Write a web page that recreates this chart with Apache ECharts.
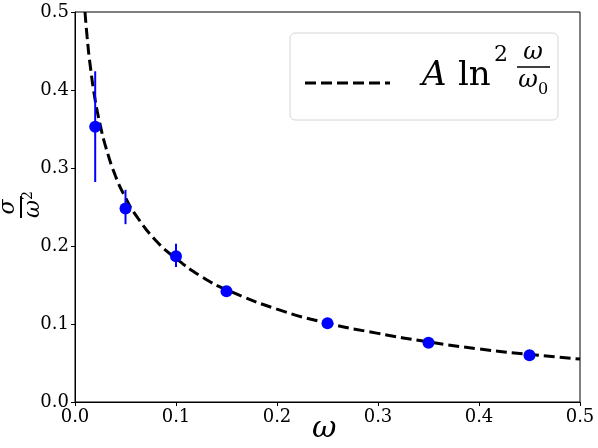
<!DOCTYPE html>
<html>
<head>
<meta charset="utf-8">
<script src="https://cdn.jsdelivr.net/npm/echarts@6/dist/echarts.min.js"></script>
<style>
  html, body { margin: 0; padding: 0; background: #fff; }
  #chart { width: 598px; height: 448px; }
</style>
</head>
<body>
<div id="chart"></div>
<script>
// measured points
const omega = [0.02, 0.05, 0.1, 0.15, 0.25, 0.35, 0.45]
const sigma = [0.353, 0.248, 0.187, 0.142, 0.101, 0.076, 0.060]
const errLow = [0.282, 0.228, 0.173, 0.138, 0.098, 0.074, 0.058]
const errHigh = [0.424, 0.272, 0.203, 0.146, 0.104, 0.078, 0.062]
// dashed fit curve
const fitX = [0.0099, 0.012, 0.015, 0.02, 0.025, 0.03, 0.04, 0.05, 0.06, 0.08, 0.1, 0.125, 0.15, 0.2, 0.25, 0.3, 0.35, 0.4, 0.45, 0.5]
const fitY = [0.500, 0.468, 0.432, 0.387, 0.355, 0.329, 0.290, 0.262, 0.240, 0.207, 0.184, 0.161, 0.144, 0.119, 0.101, 0.088, 0.077, 0.068, 0.061, 0.055]
const ticks = ['0.0', '0.1', '0.2', '0.3', '0.4', '0.5']

const serif = 'DejaVu Serif'
const chart = echarts.init(document.getElementById('chart'))

const axisCommon = {
  type: 'value',
  min: 0,
  max: 0.5,
  interval: 0.1,
  axisLine: { show: true, onZero: false, lineStyle: { color: '#000', width: 1 } },
  axisTick: { show: true, inside: false, length: 4, lineStyle: { color: '#000' } },
  splitLine: { show: false },
  axisLabel: {
    color: '#000',
    fontFamily: serif,
    fontSize: 18,
    margin: 6,
    formatter: (v) => ticks[Math.round(v * 10)]
  }
}

chart.setOption({
  animation: false,
  grid: {
    left: 75, right: 18, top: 12, bottom: 46,
    show: true, borderColor: '#000', borderWidth: 1
  },
  xAxis: axisCommon,
  yAxis: axisCommon,
  series: [
    {
      type: 'line',
      data: fitX.map((x, i) => [x, fitY[i]]),
      smooth: true,
      showSymbol: false,
      lineStyle: { color: '#000', width: 3, type: [11, 5] },
      z: 2
    },
    {
      type: 'custom',
      data: omega.map((x, i) => [x, errLow[i], errHigh[i]]),
      renderItem: (params, api) => {
        const x = api.value(0)
        const lo = api.coord([x, api.value(1)])
        const hi = api.coord([x, api.value(2)])
        return {
          type: 'line',
          shape: { x1: lo[0], y1: lo[1], x2: hi[0], y2: hi[1] },
          style: { stroke: '#0000ff', lineWidth: 2 }
        }
      },
      z: 3
    },
    {
      type: 'scatter',
      data: omega.map((x, i) => [x, sigma[i]]),
      symbolSize: 12,
      itemStyle: { color: '#0000ff', opacity: 1 },
      z: 4
    }
  ],
  graphic: [
    // x axis name
    { type: 'text', left: 312, top: 414, style: { text: 'ω', fontStyle: 'italic', fontSize: 30, fontFamily: serif, fill: '#000' } },
    // y axis name: sigma over omega^2, rotated
    {
      type: 'group', x: 21, y: 207, rotation: Math.PI / 2,
      children: [
        { type: 'text', x: 0, y: -2, style: { text: 'σ', fontStyle: 'italic', fontSize: 22, fontFamily: serif, fill: '#000', align: 'center', verticalAlign: 'bottom' } },
        { type: 'line', shape: { x1: -11, y1: 0, x2: 11, y2: 0 }, style: { stroke: '#000', lineWidth: 2 } },
        { type: 'text', x: -2, y: 1, style: { text: 'ω', fontStyle: 'italic', fontSize: 22, fontFamily: serif, fill: '#000', align: 'center', verticalAlign: 'top' } },
        { type: 'text', x: 7, y: 0, style: { text: '2', fontSize: 14, fontFamily: serif, fill: '#000', align: 'left', verticalAlign: 'top' } }
      ]
    },
    // legend
    {
      type: 'rect', shape: { x: 290, y: 33, width: 268, height: 87, r: 5 },
      style: { fill: 'rgba(255,255,255,0.8)', stroke: '#d6d6d6', lineWidth: 1 }, z: 10
    },
    {
      type: 'line', shape: { x1: 305, y1: 83, x2: 390, y2: 83 },
      style: { stroke: '#000', lineWidth: 3, lineDash: [11, 5] }, z: 11
    },
    { type: 'text', x: 422, y: 93, style: { text: 'A', fontStyle: 'italic', fontSize: 34, fontFamily: serif, fill: '#000', verticalAlign: 'bottom' }, z: 11 },
    { type: 'text', x: 458, y: 93, style: { text: 'ln', fontSize: 34, fontFamily: serif, fill: '#000', verticalAlign: 'bottom' }, z: 11 },
    { type: 'text', x: 494, y: 66, style: { text: '2', fontSize: 22, fontFamily: serif, fill: '#000', verticalAlign: 'bottom' }, z: 11 },
    { type: 'text', x: 533, y: 65, style: { text: 'ω', fontStyle: 'italic', fontSize: 24, fontFamily: serif, fill: '#000', align: 'center', verticalAlign: 'bottom' }, z: 11 },
    { type: 'line', shape: { x1: 517, y1: 67, x2: 550, y2: 67 }, style: { stroke: '#000', lineWidth: 1.5 }, z: 11 },
    { type: 'text', x: 528, y: 69, style: { text: 'ω', fontStyle: 'italic', fontSize: 24, fontFamily: serif, fill: '#000', align: 'center', verticalAlign: 'top' }, z: 11 },
    { type: 'text', x: 538, y: 82, style: { text: '0', fontSize: 16, fontFamily: serif, fill: '#000', verticalAlign: 'top' }, z: 11 }
  ]
})
</script>
</body>
</html>
